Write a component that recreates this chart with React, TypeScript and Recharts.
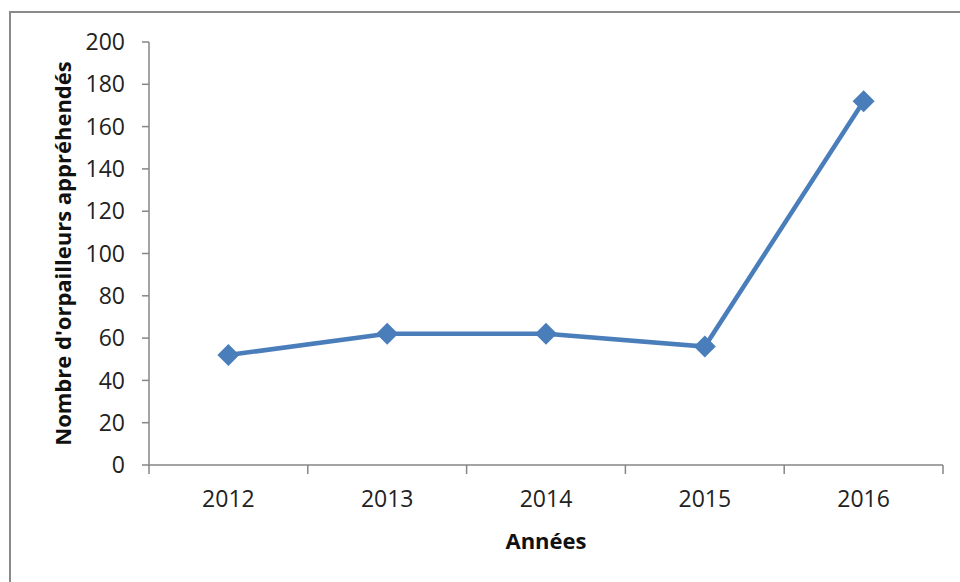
import React from 'react';
import { LineChart, Line, XAxis, YAxis } from 'recharts';

const years = ['2012', '2013', '2014', '2015', '2016'];
const values = [52, 62, 62, 56, 172];
const yTicks = [0, 20, 40, 60, 80, 100, 120, 140, 160, 180, 200];
const boundaryTicks = [-0.5, 0.5, 1.5, 2.5, 3.5, 4.5];
const labelTicks = [0, 1, 2, 3, 4];

const data = years.map((y, i) => ({ idx: i, year: y, value: values[i] }));

const BLUE = '#4A7EBB';
const AXIS = '#868686';
const FONT = '"Open Sans", sans-serif';

const Diamond = (props: any) => {
  const { cx, cy } = props;
  if (cx == null || cy == null) return null;
  const r = 11;
  return (
    <path
      d={`M${cx},${cy - r}L${cx + r},${cy}L${cx},${cy + r}L${cx - r},${cy}Z`}
      fill={BLUE}
      stroke="none"
    />
  );
};

export default function App() {
  return (
    <div style={{ position: 'absolute', left: 0, top: 0, width: 960, height: 582, background: '#fff', overflow: 'hidden' }}>
      <div
        style={{
          position: 'absolute',
          left: 9,
          top: 11,
          width: 1000,
          height: 1000,
          border: '2px solid #8a8a8a',
          boxSizing: 'border-box',
        }}
      />
      <div style={{ position: 'absolute', left: 0, top: 0 }}>
        <LineChart width={960} height={582} data={data} margin={{ top: 42, right: 17, bottom: 17, left: 0 }}>
          <XAxis
            xAxisId="a_tick"
            dataKey="idx"
            type="number"
            domain={[-0.5, 4.5]}
            ticks={boundaryTicks}
            interval={0}
            tickFormatter={() => ''}
            tickSize={9}
            height={1}
            axisLine={{ stroke: AXIS, strokeWidth: 1.5 }}
            tickLine={{ stroke: AXIS, strokeWidth: 1.5 }}
          />
          <XAxis
            xAxisId="b_lab"
            dataKey="idx"
            type="number"
            domain={[-0.5, 4.5]}
            ticks={labelTicks}
            interval={0}
            tickFormatter={(v: number) => years[v]}
            axisLine={false}
            tickLine={false}
            tickSize={0}
            tickMargin={25}
            height={99}
            tick={{ fill: '#222', fontSize: 23, fontFamily: FONT }}
            label={{
              value: 'Années',
              position: 'insideBottom',
              offset: 16,
              style: { fontFamily: FONT, fontSize: 22, fontWeight: 700, fill: '#111' },
            }}
          />
          <YAxis
            domain={[0, 200]}
            ticks={yTicks}
            interval={0}
            width={149}
            tickSize={7}
            tickMargin={17}
            axisLine={{ stroke: AXIS, strokeWidth: 1.5 }}
            tickLine={{ stroke: AXIS, strokeWidth: 1.5 }}
            tick={{ fill: '#222', fontSize: 23, fontFamily: FONT }}
            label={{
              value: "Nombre d'orpailleurs appréhendés",
              angle: -90,
              position: 'insideLeft',
              offset: 63,
              style: { textAnchor: 'middle', fontFamily: FONT, fontSize: 22, fontWeight: 700, fill: '#111' },
            }}
          />
          <Line
            xAxisId="a_tick"
            type="linear"
            dataKey="value"
            stroke={BLUE}
            strokeWidth={4.5}
            dot={<Diamond />}
            activeDot={false}
            isAnimationActive={false}
          />
        </LineChart>
      </div>
    </div>
  );
}
